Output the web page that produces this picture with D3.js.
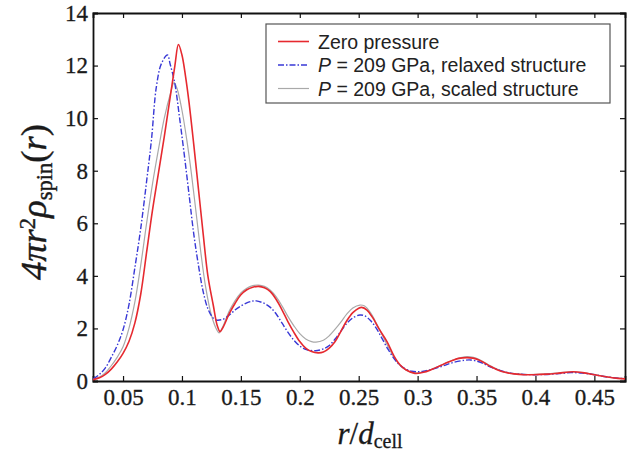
<!DOCTYPE html>
<html>
<head>
<meta charset="utf-8">
<script src="https://cdn.jsdelivr.net/npm/d3@7"></script>
<style>
  body { margin: 0; background: #fff; }
  svg { display: block; }
</style>
</head>
<body>
<div id="graph"></div>
<script>
// r/d_cell sample points and 4 pi r^2 rho_spin values
var zeroX = [0.0245, 0.03, 0.035, 0.04, 0.045, 0.05, 0.055, 0.06, 0.065, 0.07, 0.075, 0.08, 0.085, 0.09, 0.094, 0.097,
  0.1, 0.103, 0.106, 0.11, 0.114, 0.118, 0.122, 0.1265, 0.13, 0.1323, 0.135, 0.14, 0.145, 0.15, 0.155, 0.16,
  0.165, 0.17, 0.175, 0.18, 0.185, 0.19, 0.195, 0.2, 0.205, 0.21, 0.2155, 0.22, 0.225, 0.23, 0.235, 0.24, 0.245, 0.25,
  0.2525, 0.257, 0.262, 0.267, 0.274, 0.28, 0.285, 0.29, 0.2977, 0.305, 0.31, 0.315, 0.32, 0.325, 0.33, 0.335, 0.3417,
  0.347, 0.352, 0.357, 0.362, 0.368, 0.375, 0.382, 0.39, 0.398, 0.41, 0.42, 0.432, 0.44, 0.45, 0.46, 0.47, 0.476]
var zeroY = [0.05, 0.12, 0.25, 0.45, 0.72, 1.05, 1.5, 2.2, 3.3, 4.9, 6.5, 7.9, 9.3, 10.8, 12.0, 12.8,
  12.4, 11.6, 10.6, 9.0, 7.3, 5.6, 4.0, 2.9, 2.1, 1.88, 2.05, 2.55, 2.95, 3.28, 3.47, 3.57,
  3.6, 3.55, 3.4, 3.1, 2.7, 2.25, 1.85, 1.5, 1.25, 1.12, 1.07, 1.1, 1.25, 1.5, 1.9, 2.3, 2.6, 2.77,
  2.8, 2.7, 2.4, 2.0, 1.5, 0.95, 0.62, 0.43, 0.29, 0.33, 0.4, 0.5, 0.6, 0.7, 0.79, 0.86, 0.89,
  0.87, 0.8, 0.68, 0.55, 0.42, 0.32, 0.27, 0.24, 0.24, 0.26, 0.3, 0.35, 0.32, 0.24, 0.16, 0.1, 0.08]

var relaxX = [0.0245, 0.03, 0.035, 0.04, 0.045, 0.05, 0.055, 0.06, 0.065, 0.07, 0.0741, 0.0783, 0.0826, 0.0877, 0.09,
  0.094, 0.098, 0.102, 0.106, 0.11, 0.114, 0.118, 0.122, 0.126, 0.129, 0.135, 0.14, 0.145, 0.15, 0.155, 0.16, 0.163,
  0.17, 0.175, 0.18, 0.185, 0.19, 0.195, 0.2, 0.205, 0.2114, 0.215, 0.22, 0.225, 0.23, 0.235, 0.24, 0.245, 0.251,
  0.255, 0.26, 0.265, 0.27, 0.275, 0.28, 0.285, 0.29, 0.295, 0.3, 0.305, 0.31, 0.32, 0.33, 0.34, 0.345, 0.35, 0.355,
  0.36, 0.37, 0.38, 0.39, 0.4, 0.41, 0.42, 0.43, 0.44, 0.45, 0.46, 0.47, 0.476]
var relaxY = [0.08, 0.25, 0.5, 0.9, 1.35, 1.95, 2.9, 4.3, 5.8, 7.6, 9.17, 11.2, 12.08, 12.4, 12.05,
  11.3, 10.0, 8.6, 7.1, 5.6, 4.4, 3.4, 2.75, 2.42, 2.32, 2.35, 2.5, 2.7, 2.85, 2.97, 3.04, 3.05,
  2.95, 2.8, 2.55, 2.2, 1.85, 1.55, 1.33, 1.2, 1.15, 1.16, 1.22, 1.35, 1.6, 1.9, 2.2, 2.4, 2.51,
  2.48, 2.3, 2.0, 1.6, 1.2, 0.85, 0.6, 0.45, 0.37, 0.35, 0.37, 0.42, 0.55, 0.7, 0.79, 0.8, 0.76, 0.68,
  0.57, 0.4, 0.29, 0.25, 0.24, 0.25, 0.28, 0.32, 0.3, 0.24, 0.16, 0.11, 0.09]

var scaledX = [0.0245, 0.03, 0.035, 0.04, 0.045, 0.05, 0.055, 0.06, 0.065, 0.07, 0.075, 0.08, 0.085, 0.09, 0.0933,
  0.096, 0.1, 0.104, 0.108, 0.112, 0.116, 0.12, 0.125, 0.1295, 0.1315, 0.135, 0.14, 0.145, 0.15, 0.155, 0.16, 0.165, 0.17,
  0.175, 0.18, 0.185, 0.19, 0.195, 0.2, 0.205, 0.21, 0.2137, 0.22, 0.225, 0.23, 0.235, 0.24, 0.245, 0.251, 0.255,
  0.26, 0.265, 0.27, 0.275, 0.28, 0.285, 0.29, 0.295, 0.3, 0.305, 0.31, 0.32, 0.33, 0.34, 0.345, 0.35, 0.355, 0.36,
  0.37, 0.38, 0.39, 0.4, 0.41, 0.42, 0.43, 0.44, 0.45, 0.46, 0.47, 0.476]
var scaledY = [0.06, 0.15, 0.32, 0.58, 0.9, 1.3, 2.0, 3.0, 4.4, 6.0, 7.5, 8.8, 10.0, 10.9, 11.35,
  11.1, 10.3, 9.2, 7.9, 6.4, 4.9, 3.6, 2.5, 1.95, 1.83, 2.1, 2.65, 3.05, 3.35, 3.53, 3.63, 3.65, 3.6,
  3.45, 3.2, 2.85, 2.45, 2.1, 1.8, 1.6, 1.5, 1.48, 1.55, 1.72, 1.97, 2.25, 2.55, 2.78, 2.89, 2.85,
  2.6, 2.2, 1.75, 1.3, 0.9, 0.6, 0.42, 0.33, 0.31, 0.35, 0.42, 0.6, 0.8, 0.92, 0.92, 0.86, 0.75, 0.62,
  0.4, 0.29, 0.25, 0.25, 0.27, 0.31, 0.35, 0.32, 0.25, 0.16, 0.11, 0.09]

var xTicks = [0.05, 0.1, 0.15, 0.2, 0.25, 0.3, 0.35, 0.4, 0.45]
var yTicks = [0, 2, 4, 6, 8, 10, 12, 14]

var series = [
  {name: 'Zero pressure', p: false, xs: zeroX, ys: zeroY, color: '#e6292f', width: 1.6, dash: null},
  {name: ' = 209 GPa, relaxed structure', p: true, xs: relaxX, ys: relaxY, color: '#3838d6', width: 1.4, dash: '6,2,1.5,2'},
  {name: ' = 209 GPa, scaled structure', p: true, xs: scaledX, ys: scaledY, color: '#a9a9a9', width: 1.2, dash: null}
]

var width = 637, height = 462
var margin = {left: 93, top: 13, right: 12, bottom: 81}
var serif = 'Liberation Serif'
var sans = 'Liberation Sans'

var svg = d3.select('#graph').append('svg')
  .attr('width', width).attr('height', height)

var x = d3.scaleLinear().domain([0.0245, 0.476]).range([margin.left, width - margin.right])
var y = d3.scaleLinear().domain([0, 14]).range([height - margin.bottom, margin.top])

var fmt = d => +d.toFixed(2)

svg.append('g')
  .attr('transform', `translate(0,${y(0)})`)
  .call(d3.axisBottom(x).tickValues(xTicks).tickFormat(fmt).tickSize(-5).tickPadding(8))
svg.append('g')
  .attr('transform', `translate(0,${y(14)})`)
  .call(d3.axisTop(x).tickValues(xTicks).tickFormat('').tickSize(-5))
svg.append('g')
  .attr('transform', `translate(${x.range()[0]},0)`)
  .call(d3.axisLeft(y).tickValues(yTicks).tickSize(-5).tickPadding(5))
svg.append('g')
  .attr('transform', `translate(${x.range()[1]},0)`)
  .call(d3.axisRight(y).tickValues(yTicks).tickFormat('').tickSize(-5))

svg.selectAll('.tick text')
  .style('font-family', serif).style('font-size', '23px')
  .attr('fill', '#1a1a1a').attr('stroke', '#1a1a1a').attr('stroke-width', 0.3)
svg.selectAll('.domain').attr('stroke', '#111').attr('stroke-width', 1.8)
svg.selectAll('.tick line').attr('stroke', '#111').attr('stroke-width', 1.2)

svg.append('clipPath').attr('id', 'clip')
  .append('rect')
  .attr('x', x.range()[0]).attr('y', y.range()[1])
  .attr('width', x.range()[1] - x.range()[0]).attr('height', y.range()[0] - y.range()[1])

var line = d3.line().curve(d3.curveCatmullRom.alpha(0.5))
  .x(d => x(d[0])).y(d => y(d[1]))

// gray first, then blue, red on top
;[2, 1, 0].forEach(i => {
  var s = series[i]
  svg.append('path')
    .datum(d3.zip(s.xs, s.ys))
    .attr('clip-path', 'url(#clip)')
    .attr('d', line)
    .attr('fill', 'none')
    .attr('stroke', s.color)
    .attr('stroke-width', s.width)
    .attr('stroke-dasharray', s.dash)
})

// legend
var leg = svg.append('g').attr('transform', 'translate(266,24)')
leg.append('rect')
  .attr('width', 344).attr('height', 79)
  .attr('fill', '#fff').attr('stroke', '#555').attr('stroke-width', 1.2)

series.forEach((s, i) => {
  var g = leg.append('g').attr('transform', `translate(0,${17.5 + i * 23.5})`)
  g.append('line')
    .attr('x1', 12).attr('x2', 43)
    .attr('stroke', s.color).attr('stroke-width', s.width)
    .attr('stroke-dasharray', s.dash)
  var t = g.append('text').attr('x', 52).attr('dy', '0.36em')
    .style('font-family', sans).style('font-size', '19.5px').attr('fill', '#222')
  if (s.p) t.append('tspan').style('font-style', 'italic').text('P')
  t.append('tspan').text(s.name)
})

// axis titles
var yl = svg.append('text')
  .attr('transform', 'translate(46,202) rotate(-90)')
  .attr('text-anchor', 'middle')
  .style('font-family', serif).style('font-size', '29px').style('font-style', 'italic').attr('fill', '#1a1a1a')
  .attr('stroke', '#1a1a1a').attr('stroke-width', 0.4)
yl.append('tspan').text('4πr')
yl.append('tspan').attr('dy', -11).style('font-size', '0.62em').style('font-style', 'normal').text('2')
yl.append('tspan').attr('dy', 11).text('ρ')
yl.append('tspan').attr('dy', 6).style('font-size', '0.62em').style('font-style', 'normal').text('spin')
yl.append('tspan').attr('dy', -6).style('font-style', 'normal').text('(')
yl.append('tspan').text('r')
yl.append('tspan').style('font-style', 'normal').text(')')

// fit the y title to the length it has in the picture
var ylLen = yl.node().getComputedTextLength()
yl.style('font-size', (29 * 156 / ylLen) + 'px')

var xl = svg.append('text')
  .attr('x', 370).attr('y', 444)
  .attr('text-anchor', 'middle')
  .style('font-family', serif).style('font-size', '31px').style('font-style', 'italic')
  .attr('fill', '#1a1a1a').attr('stroke', '#1a1a1a').attr('stroke-width', 0.3)
xl.append('tspan').text('r')
xl.append('tspan').style('font-style', 'normal').text('/')
xl.append('tspan').text('d')
xl.append('tspan').attr('dy', 4).style('font-size', '20px').style('font-style', 'normal').text('cell')
</script>
</body>
</html>
